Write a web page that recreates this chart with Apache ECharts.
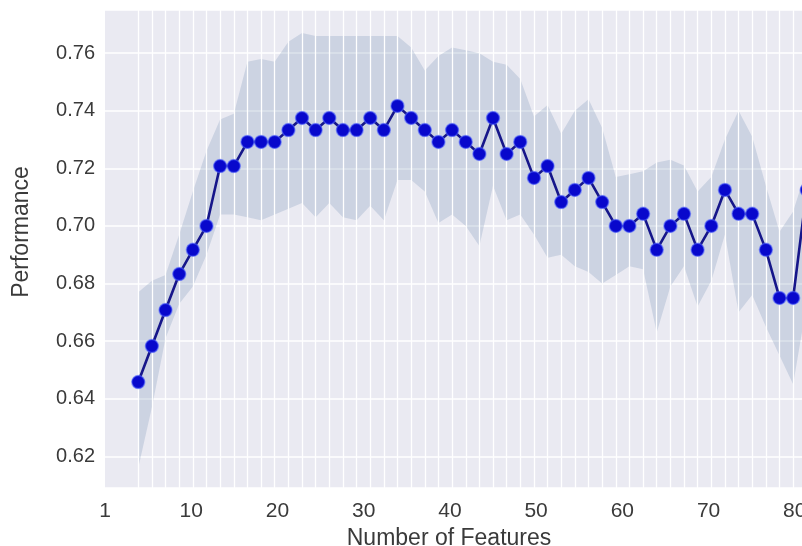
<!DOCTYPE html>
<html><head><meta charset="utf-8">
<script src="https://cdn.jsdelivr.net/npm/echarts@6/dist/echarts.min.js"></script>
<style>html,body{margin:0;padding:0;background:#fff}#c{width:802px;height:546px}</style>
</head><body><div id="c"></div>
<script>
// x positions of the evaluated feature counts
const features = [3.86, 5.44, 7.02, 8.61, 10.19, 11.77, 13.35, 14.94, 16.52, 18.10,
  19.68, 21.27, 22.85, 24.43, 26.01, 27.59, 29.18, 30.76, 32.34, 33.92,
  35.51, 37.09, 38.67, 40.25, 41.84, 43.42, 45.00, 46.58, 48.16, 49.75,
  51.33, 52.91, 54.49, 56.08, 57.66, 59.24, 60.82, 62.41, 63.99, 65.57,
  67.15, 68.73, 70.32, 71.90, 73.48, 75.06, 76.65, 78.23, 79.81, 81.39];
const meanScore = [0.6458, 0.6583, 0.6708, 0.6833, 0.6917, 0.7000, 0.7208, 0.7208, 0.7292, 0.7292,
  0.7292, 0.7333, 0.7375, 0.7333, 0.7375, 0.7333, 0.7333, 0.7375, 0.7333, 0.7417,
  0.7375, 0.7333, 0.7292, 0.7333, 0.7292, 0.7250, 0.7375, 0.7250, 0.7292, 0.7167,
  0.7208, 0.7083, 0.7125, 0.7167, 0.7083, 0.7000, 0.7000, 0.7042, 0.6917, 0.7000,
  0.7042, 0.6917, 0.7000, 0.7125, 0.7042, 0.7042, 0.6917, 0.6750, 0.6750, 0.7125];
const upperBound = [0.677, 0.681, 0.683, 0.697, 0.712, 0.726, 0.737, 0.739, 0.757, 0.758,
  0.757, 0.764, 0.767, 0.766, 0.766, 0.766, 0.766, 0.766, 0.766, 0.766,
  0.762, 0.754, 0.759, 0.762, 0.761, 0.760, 0.757, 0.756, 0.751, 0.738,
  0.742, 0.732, 0.740, 0.744, 0.734, 0.717, 0.718, 0.719, 0.722, 0.723,
  0.721, 0.712, 0.717, 0.730, 0.740, 0.731, 0.714, 0.698, 0.705, 0.720];
const lowerBound = [0.616, 0.637, 0.661, 0.673, 0.679, 0.690, 0.704, 0.704, 0.703, 0.702,
  0.704, 0.706, 0.708, 0.703, 0.708, 0.703, 0.702, 0.707, 0.702, 0.716,
  0.716, 0.712, 0.701, 0.704, 0.700, 0.693, 0.714, 0.702, 0.704, 0.697,
  0.689, 0.690, 0.686, 0.684, 0.680, 0.683, 0.686, 0.685, 0.663, 0.679,
  0.686, 0.672, 0.681, 0.697, 0.670, 0.676, 0.665, 0.655, 0.645, 0.673];
const xTickValues = [0, 10, 20, 30, 40, 50, 60, 70, 80];
const xTickLabels = ['1', '10', '20', '30', '40', '50', '60', '70', '80'];

const FONT = 'Liberation Sans, Arial, sans-serif';
const TXT = '#3a3a3a';

const chart = echarts.init(document.getElementById('c'), null, {renderer: 'canvas'});
const option = {
  animation: false,
  grid: {left: 105, top: 10, width: 776, height: 478, show: true, containLabel: false,
         outerBoundsMode: 'none',
         backgroundColor: '#EAEAF2', borderWidth: 0},
  xAxis: {
    type: 'value', min: 0, max: 90, interval: 10,
    axisLine: {show: false}, axisTick: {show: false}, splitLine: {show: false},
    axisLabel: {
      formatter: v => { const i = xTickValues.indexOf(v); return i >= 0 ? xTickLabels[i] : ''; },
      fontSize: 21, color: TXT, margin: 13, fontFamily: FONT
    },
    name: 'Number of Features', nameLocation: 'middle', nameGap: 36,
    nameTextStyle: {fontSize: 23, color: TXT, fontFamily: FONT, padding: [0, 88, 0, 0]}
  },
  yAxis: {
    type: 'value', min: 0.609, max: 0.775, splitNumber: 8,
    axisLine: {show: false}, axisTick: {show: false},
    splitLine: {show: true, lineStyle: {color: '#ffffff', width: 1.5}},
    axisLabel: {
      formatter: v => v.toFixed(2), showMinLabel: false, showMaxLabel: false,
      fontSize: 20, color: TXT, margin: 10, fontFamily: FONT
    },
    name: 'Performance', nameLocation: 'middle', nameGap: 72,
    nameTextStyle: {fontSize: 23, color: TXT, fontFamily: FONT, padding: [0, 0, 0, 34]}
  },
  series: [
    {
      type: 'line', data: [], z: 1, silent: true,
      markLine: {
        silent: true, symbol: ['none', 'none'], animation: false,
        label: {show: false},
        lineStyle: {color: '#ffffff', width: 1.3, type: 'solid'},
        emphasis: {disabled: true},
        data: features.map(f => ({xAxis: f}))
      }
    },
    {
      type: 'custom', z: 2, silent: true, clip: true,
      data: [[features[0], upperBound[0]]],
      renderItem: (params, api) => {
        const pts = [];
        for (let i = 0; i < features.length; i++) pts.push(api.coord([features[i], upperBound[i]]));
        for (let i = features.length - 1; i >= 0; i--) pts.push(api.coord([features[i], lowerBound[i]]));
        return {type: 'polygon', shape: {points: pts}, style: {fill: 'rgba(110,140,175,0.24)'}};
      }
    },
    {
      type: 'line', z: 5, silent: true,
      data: features.map((f, i) => [f, meanScore[i]]),
      symbol: 'circle', symbolSize: 13, showSymbol: true,
      lineStyle: {color: '#16168a', width: 2.6},
      itemStyle: {color: '#0808cc', borderColor: 'rgba(80,100,255,0.55)', borderWidth: 1.5},
      emphasis: {disabled: true}
    }
  ]
};
chart.setOption(option);
</script></body></html>
